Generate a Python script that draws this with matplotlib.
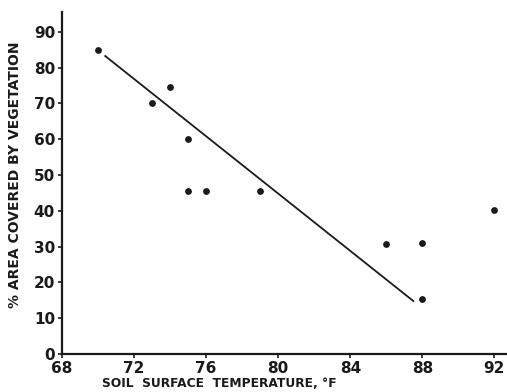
#!/usr/bin/env python3
"""Vegetation cover vs soil surface temperature, scanned-figure style."""

import matplotlib

matplotlib.use("Agg")
import matplotlib.pyplot as plt

TEMP_F = [70.0, 73.0, 74.0, 75.0, 75.0, 76.0, 79.0, 86.0, 88.0, 88.0, 92.0]
COVER_PCT = [85.0, 70.0, 74.5, 60.0, 45.5, 45.5, 45.5, 30.8, 31.0, 15.5, 40.3]

# Fitted line, drawn between its two visible end points.
FIT_T = [70.4, 87.5]
FIT_COVER = [83.2, 14.8]

X_TICKS = [68, 72, 76, 80, 84, 88, 92]
Y_TICKS = [0, 10, 20, 30, 40, 50, 60, 70, 80, 90]

INK = "#1a1a1a"


def main() -> None:
    plt.rcParams["font.family"] = ["DejaVu Sans"]
    fig = plt.figure(figsize=(5.07, 3.92), dpi=100)
    ax = fig.add_axes([0.1223, 0.0969, 0.8777, 0.8725])

    ax.scatter(TEMP_F, COVER_PCT, s=24, color=INK, zorder=3, linewidths=0)
    ax.plot(FIT_T, FIT_COVER, color=INK, linewidth=1.3)

    ax.set_xlim(68, 92.7)
    ax.set_ylim(0, 95.5)
    ax.set_xticks(X_TICKS)
    ax.set_yticks(Y_TICKS)

    for side in ("top", "right"):
        ax.spines[side].set_visible(False)
    for side in ("left", "bottom"):
        ax.spines[side].set_linewidth(1.6)
        ax.spines[side].set_color(INK)

    ax.tick_params(axis="both", direction="out", length=3, width=1.2,
                   color=INK, labelcolor=INK, labelsize=11)
    ax.tick_params(axis="x", pad=2)
    ax.tick_params(axis="y", pad=2)
    for lbl in ax.get_xticklabels() + ax.get_yticklabels():
        lbl.set_fontweight("bold")

    fig.text(0.432, 0.005, "SOIL  SURFACE  TEMPERATURE, °F", ha="center", va="bottom",
             fontsize=8.8, fontweight="bold", color=INK)
    fig.text(0.016, 0.553, "% AREA COVERED BY VEGETATION", ha="left", va="center",
             rotation=90, fontsize=10, fontweight="bold", color=INK)

    fig.savefig("out.png", dpi=100)
    plt.close(fig)


if __name__ == "__main__":
    main()
